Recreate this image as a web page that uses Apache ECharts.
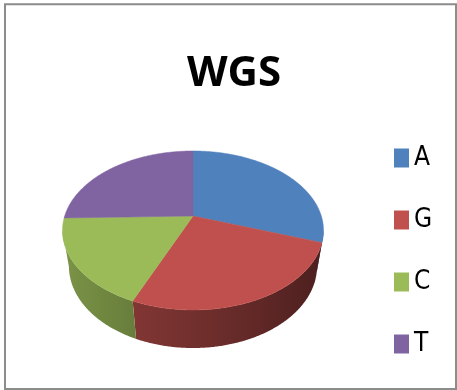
<!DOCTYPE html>
<html>
<head>
<meta charset="utf-8">
<script src="https://cdn.jsdelivr.net/npm/echarts@6/dist/echarts.min.js"></script>
<style>
  html, body { margin: 0; padding: 0; background: #ffffff; }
  #chart { width: 457px; height: 390px; }
</style>
</head>
<body>
<div id="chart"></div>
<script>
// Base composition of the WGS reads (share of each nucleotide, %)
const categories = ['A', 'G', 'C', 'T'];
const shares = [30.3, 26.1, 18.2, 25.4];
const titleText = 'WGS';

const palette = ['#4f81bd', '#c0504d', '#9bbb59', '#8064a2'];

// Perspective camera for the tilted 3D pie (unit radius disc)
const view = {
  cx: 193, cy: 216,      // screen position of the disc centre
  F: 564.6,              // focal length in px
  D: 4.40,               // camera distance
  cosPhi: 0.801, sinPhi: 0.599,
  H: 0.367               // disc thickness
};

function project(thetaDeg, y) {
  const t = thetaDeg * Math.PI / 180;
  const c = Math.cos(t), s = Math.sin(t);
  const up = y * view.cosPhi + c * view.sinPhi;
  const w = view.D + c * view.cosPhi - y * view.sinPhi;
  return [view.cx + view.F * s / w, view.cy - view.F * up / w];
}

function shade(hex, f) {
  const n = parseInt(hex.slice(1), 16);
  const r = Math.round(((n >> 16) & 255) * f);
  const g = Math.round(((n >> 8) & 255) * f);
  const b = Math.round((n & 255) * f);
  return 'rgb(' + r + ',' + g + ',' + b + ')';
}

// Side wall brightness: lit from the left
function wallFactor(thetaDeg) {
  return 0.592 - 0.215 * Math.sin(thetaDeg * Math.PI / 180);
}

const total = shares.reduce((a, b) => a + b, 0);
// silhouette of the visible outer wall
const kSil = view.cosPhi / view.D;
const silA = Math.acos(-kSil) * 180 / Math.PI;   // right edge
const silB = 360 - silA;                          // left edge

function arc(a0, a1, y) {
  const pts = [];
  const n = Math.max(2, Math.ceil(Math.abs(a1 - a0) / 0.5));
  for (let k = 0; k <= n; k++) pts.push(project(a0 + (a1 - a0) * k / n, y));
  return pts;
}

function renderSlice(index, value, color) {
  let start = 0;
  for (let i = 0; i < index; i++) start += shares[i] / total * 360;
  const end = start + value / total * 360;
  const children = [];

  // outer wall, only where it faces the camera
  const w0 = Math.max(start, silA), w1 = Math.min(end, silB);
  if (w1 > w0) {
    const topArc = arc(w0, w1, 0);
    const botArc = arc(w1, w0, -view.H);
    const xR = topArc[0][0], xL = topArc[topArc.length - 1][0];
    const stops = [];
    const m = 12;
    for (let k = 0; k <= m; k++) {
      const th = w0 + (w1 - w0) * k / m;
      const x = project(th, 0)[0];
      stops.push({ offset: Math.min(1, Math.max(0, (xR - x) / (xR - xL || 1))), color: shade(color, wallFactor(th)) });
    }
    children.push({
      type: 'polygon',
      z2: 1,
      shape: { points: topArc.concat(botArc) },
      style: {
        fill: { type: 'linear', x: xR, y: 0, x2: xL, y2: 0, global: true, colorStops: stops },
        stroke: null
      }
    });
  }

  // top face
  const top = [[view.cx, view.cy]].concat(arc(start, end, 0));
  children.push({
    type: 'polygon',
    z2: 10,
    shape: { points: top },
    style: { fill: color, stroke: color, lineWidth: 0.5 }
  });

  return { type: 'group', children: children };
}

const chart = echarts.init(document.getElementById('chart'), null, { renderer: 'canvas' });

chart.setOption({
  animation: false,
  backgroundColor: '#ffffff',
  title: {
    text: titleText,
    left: 187,
    top: 53,
    padding: 0,
    textStyle: {
      fontFamily: "'Open Sans', sans-serif",
      fontWeight: 'bold',
      fontSize: 42,
      color: '#000000'
    }
  },
  legend: {
    orient: 'vertical',
    left: 394,
    top: 145,
    padding: 0,
    itemWidth: 15,
    itemHeight: 19,
    itemGap: 36,
    icon: 'rect',
    selectedMode: false,
    data: categories,
    textStyle: {
      fontFamily: "'Liberation Sans Narrow', 'DejaVu Sans Condensed', sans-serif",
      fontSize: 26,
      color: '#000000'
    }
  },
  graphic: [{
    type: 'rect',
    silent: true,
    shape: { x: 5, y: 4.3, width: 451, height: 384.7 },
    style: { fill: null, stroke: '#8c8c8c', lineWidth: 2 }
  }],
  series: categories.map((name, i) => ({
    type: 'custom',
    name: name,
    coordinateSystem: 'none',
    silent: true,
    itemStyle: { color: palette[i] },
    data: [[shares[i], i]],
    renderItem: function (params, api) {
      return renderSlice(api.value(1), api.value(0), palette[i]);
    }
  }))
});
</script>
</body>
</html>
